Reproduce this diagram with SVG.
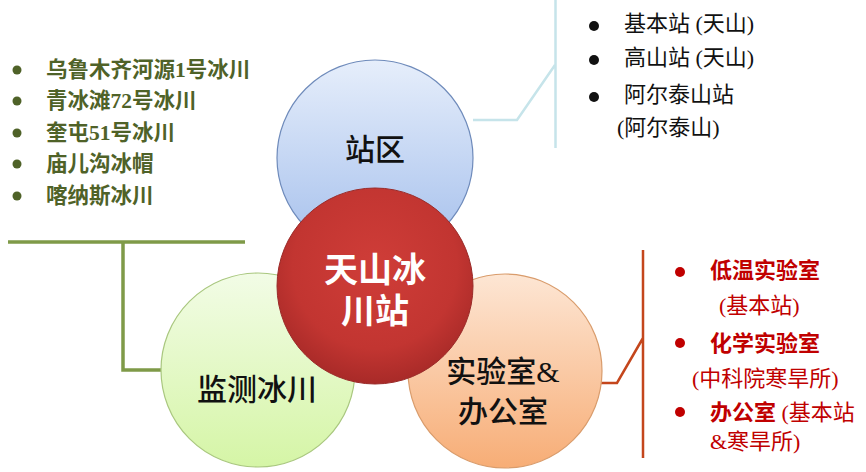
<svg xmlns="http://www.w3.org/2000/svg" width="866" height="472" viewBox="0 0 866 472">
<style>
text{font-family:"Liberation Serif","Noto Sans CJK SC",serif;}
.lbl{font-size:30px;fill:#111;text-anchor:middle;font-weight:500;}
.g{font-size:21.5px;font-weight:bold;fill:#4f6228;}
.b{font-size:22px;fill:#111;}
.r{font-size:22px;font-weight:bold;fill:#c00000;}
.rn{font-size:22px;fill:#c00000;}
</style>
<defs>
<linearGradient id="gb" x1="0" y1="0" x2="0" y2="1"><stop offset="0" stop-color="#e6eefb"/><stop offset="1" stop-color="#a4bfec"/></linearGradient>
<linearGradient id="gg" x1="0" y1="0" x2="0" y2="1"><stop offset="0" stop-color="#f2fce6"/><stop offset="1" stop-color="#d5f5a6"/></linearGradient>
<linearGradient id="go" x1="0" y1="0" x2="0" y2="1"><stop offset="0" stop-color="#fde6d4"/><stop offset="1" stop-color="#f7ad76"/></linearGradient>
<radialGradient id="gr" cx="0.5" cy="0.4" r="0.6"><stop offset="0" stop-color="#cf3d38"/><stop offset="0.7" stop-color="#c23531"/><stop offset="1" stop-color="#a82a28"/></radialGradient>
</defs>
<rect width="866" height="472" fill="#fff"/>
<g id="connectors" fill="none">
<path d="M8,242 H245 M123,242 V370 H162" stroke="#7f9a48" stroke-width="3.5"/>
<path d="M473,120 H517 L555,65 M555.5,0 V148" stroke="#c6e4ea" stroke-width="2.5"/>
<path d="M600,383 H617 L643,338 M643,250 V458" stroke="#c4461c" stroke-width="2.5"/>
</g>
<g id="node-zhanqu">
<circle cx="375" cy="158" r="98" fill="url(#gb)" stroke="#6f8bbb" stroke-width="1.2"/>
<text class="lbl" x="375" y="160">站区</text>
</g>
<g id="node-jiance">
<circle cx="258" cy="370" r="97" fill="url(#gg)" stroke="#a9c77f" stroke-width="1.2"/>
<text class="lbl" x="257" y="400">监测冰川</text>
</g>
<g id="node-shiyan">
<circle cx="505" cy="371" r="97" fill="url(#go)" stroke="#d99c6c" stroke-width="1.2"/>
<text class="lbl" x="503" y="382">实验室&amp;</text>
<text class="lbl" x="503" y="422">办公室</text>
</g>
<g id="node-center">
<circle cx="375" cy="286" r="98" fill="url(#gr)" stroke="#9a2a28" stroke-width="1"/>
<text x="375" y="282" font-size="34" font-weight="bold" fill="#fff" text-anchor="middle">天山冰</text>
<text x="375" y="323" font-size="34" font-weight="bold" fill="#fff" text-anchor="middle">川站</text>
</g>
<g id="list-glacier">
<g fill="#4f6228"><circle cx="17" cy="70" r="4.5"/><circle cx="17" cy="101" r="4.5"/><circle cx="17" cy="133" r="4.5"/><circle cx="17" cy="164" r="4.5"/><circle cx="17" cy="196" r="4.5"/></g>
<text class="g" x="46" y="77">乌鲁木齐河源1号冰川</text>
<text class="g" x="46" y="108">青冰滩72号冰川</text>
<text class="g" x="46" y="140">奎屯51号冰川</text>
<text class="g" x="46" y="171">庙儿沟冰帽</text>
<text class="g" x="46" y="203">喀纳斯冰川</text>
</g>
<g id="list-station">
<g fill="#111"><circle cx="594" cy="26" r="5"/><circle cx="594" cy="60" r="5"/><circle cx="594" cy="97" r="5"/></g>
<text class="b" x="624" y="31">基本站 (天山)</text>
<text class="b" x="624" y="65">高山站 (天山)</text>
<text class="b" x="624" y="102">阿尔泰山站</text>
<text class="b" x="617" y="135">(阿尔泰山)</text>
</g>
<g id="list-lab">
<g fill="#c00000"><circle cx="680" cy="272" r="5"/><circle cx="680" cy="343" r="5"/><circle cx="680" cy="412" r="5"/></g>
<text class="r" x="710" y="278">低温实验室</text>
<text class="rn" x="719" y="313">(基本站)</text>
<text class="r" x="710" y="351">化学实验室</text>
<text class="rn" x="692" y="386">(中科院寒旱所)</text>
<text class="rn" x="710" y="420"><tspan font-weight="bold">办公室</tspan> (基本站</text>
<text class="rn" x="710" y="449">&amp;寒旱所)</text>
</g>
</svg>
